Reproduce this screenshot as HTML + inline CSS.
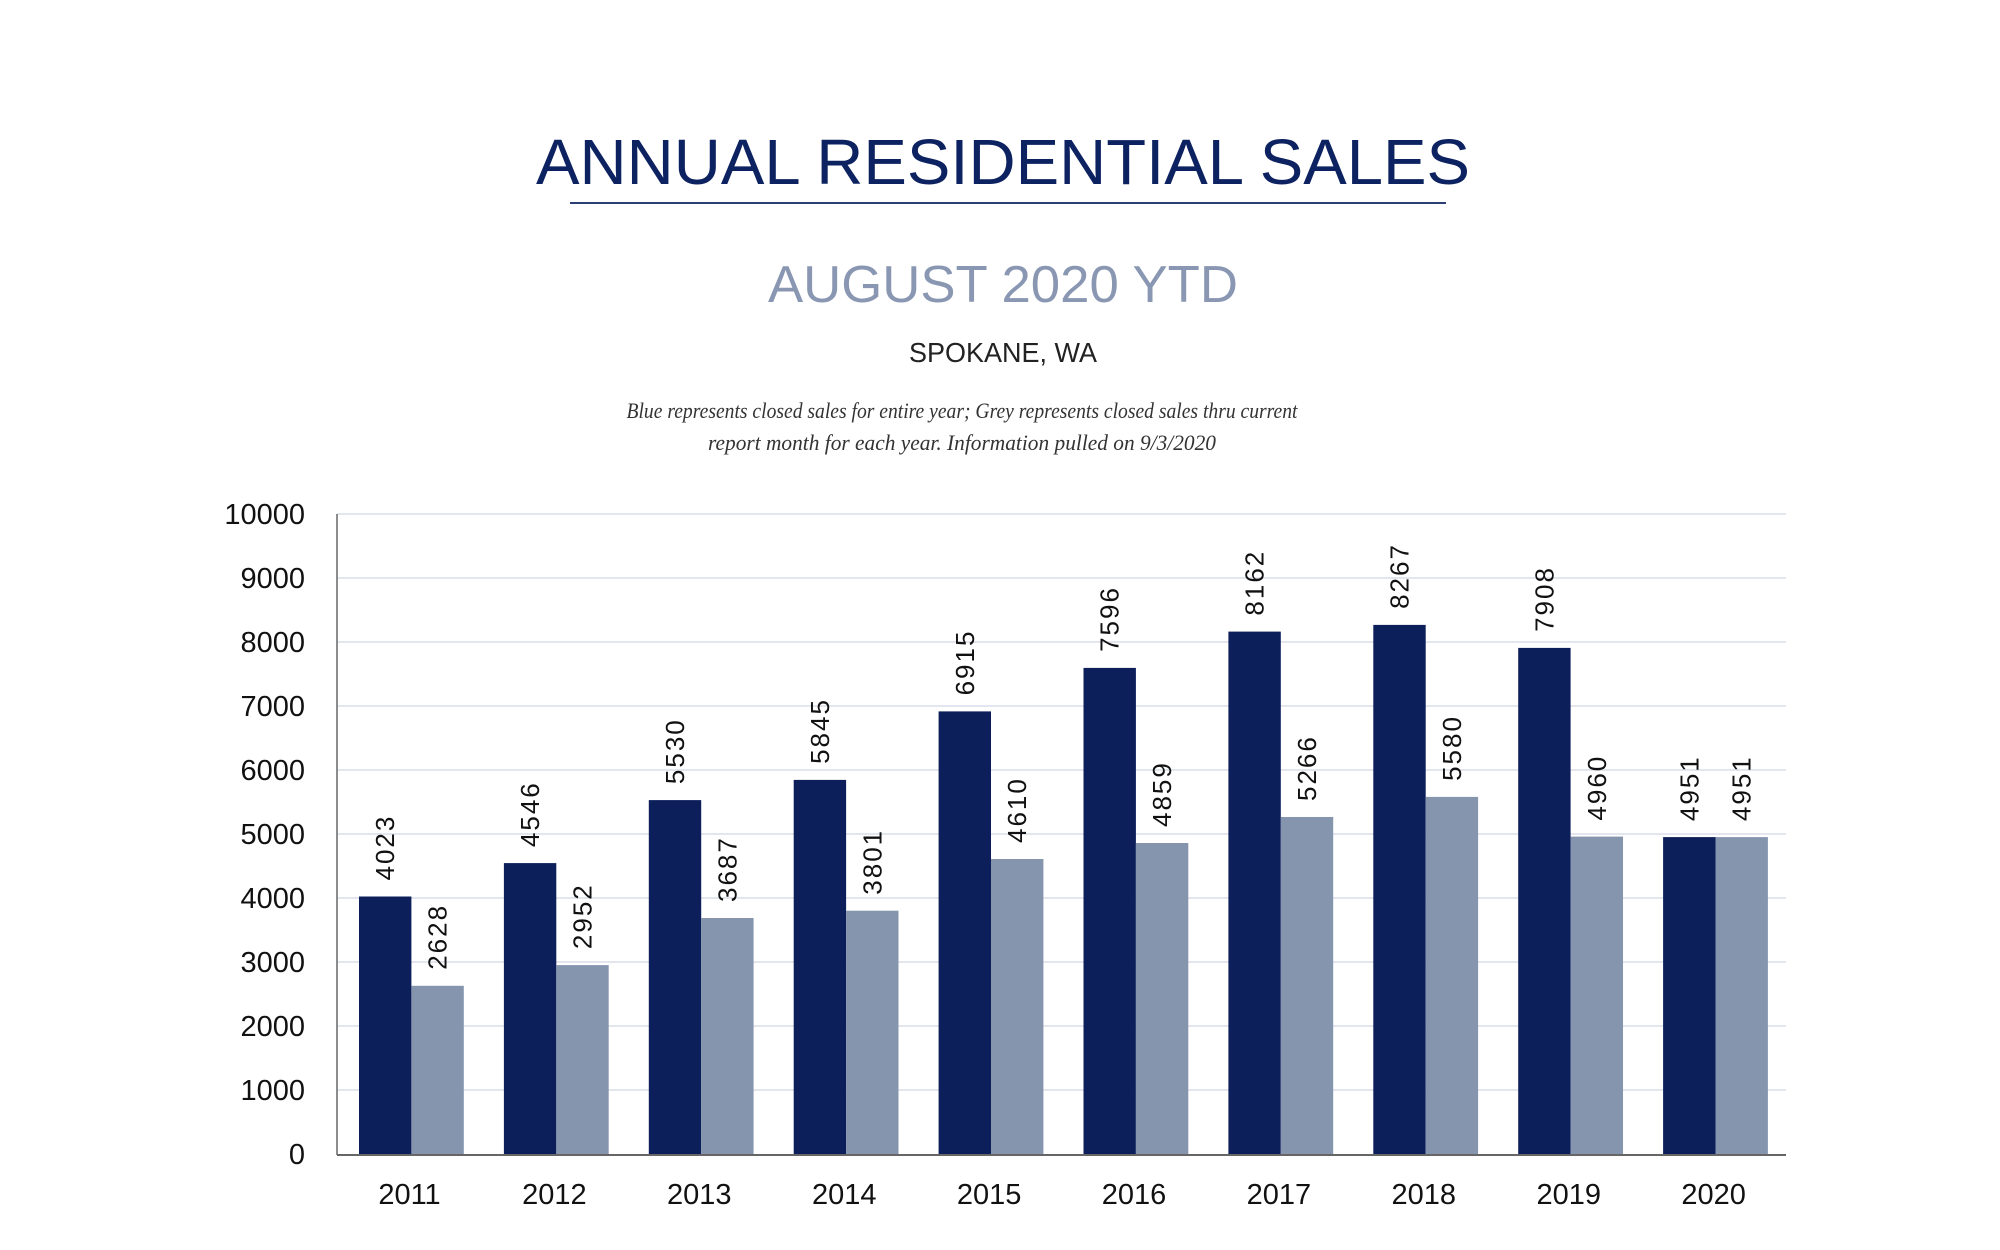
<!DOCTYPE html>
<html><head><meta charset="utf-8"><style>html,body{margin:0;padding:0;background:#fff}svg{display:block}</style></head>
<body>
<svg width="2000" height="1250" viewBox="0 0 2000 1250" xmlns="http://www.w3.org/2000/svg" font-family="Liberation Sans, sans-serif">
<rect width="2000" height="1250" fill="#fff"/>
<text x="1003" y="184" font-size="64" fill="#0d2260" text-anchor="middle" textLength="934" lengthAdjust="spacingAndGlyphs">ANNUAL RESIDENTIAL SALES</text>
<rect x="570" y="202" width="876" height="2" fill="#2a3f75"/>
<text x="1003" y="302" font-size="52" fill="#8a97b2" text-anchor="middle" textLength="470" lengthAdjust="spacingAndGlyphs">AUGUST 2020 YTD</text>
<text x="1003" y="362" font-size="28" fill="#222" text-anchor="middle" textLength="188" lengthAdjust="spacingAndGlyphs">SPOKANE, WA</text>
<g font-family="Liberation Serif, serif" font-style="italic" font-size="22" fill="#333" text-anchor="middle">
<text x="962" y="418" textLength="671" lengthAdjust="spacingAndGlyphs">Blue represents closed sales for entire year; Grey represents closed sales thru current</text>
<text x="962" y="450" textLength="508" lengthAdjust="spacingAndGlyphs">report month for each year.  Information pulled on 9/3/2020</text>
</g>
<g stroke="#e3e6ee" stroke-width="2">
<line x1="337" x2="1786" y1="514" y2="514"/><line x1="337" x2="1786" y1="578" y2="578"/>
<line x1="337" x2="1786" y1="642" y2="642"/><line x1="337" x2="1786" y1="706" y2="706"/>
<line x1="337" x2="1786" y1="770" y2="770"/><line x1="337" x2="1786" y1="834" y2="834"/>
<line x1="337" x2="1786" y1="898" y2="898"/><line x1="337" x2="1786" y1="962" y2="962"/>
<line x1="337" x2="1786" y1="1026" y2="1026"/><line x1="337" x2="1786" y1="1090" y2="1090"/>
</g>
<g font-size="29" fill="#111" text-anchor="end">
<text x="305" y="524">10000</text><text x="305" y="588">9000</text><text x="305" y="652">8000</text>
<text x="305" y="716">7000</text><text x="305" y="780">6000</text><text x="305" y="844">5000</text>
<text x="305" y="908">4000</text><text x="305" y="972">3000</text><text x="305" y="1036">2000</text>
<text x="305" y="1100">1000</text><text x="305" y="1164">0</text>
</g>
<g fill="#0c1f5b">
<rect x="359" y="896.5" width="52.4" height="257.5"/>
<rect x="503.9" y="863.1" width="52.4" height="290.9"/>
<rect x="648.8" y="800.1" width="52.4" height="353.9"/>
<rect x="793.7" y="779.9" width="52.4" height="374.1"/>
<rect x="938.6" y="711.4" width="52.4" height="442.6"/>
<rect x="1083.5" y="667.9" width="52.4" height="486.1"/>
<rect x="1228.4" y="631.6" width="52.4" height="522.4"/>
<rect x="1373.3" y="624.9" width="52.4" height="529.1"/>
<rect x="1518.2" y="647.9" width="52.4" height="506.1"/>
<rect x="1663.1" y="837.1" width="52.4" height="316.9"/>
</g>
<g fill="#8695ae">
<rect x="411.4" y="985.8" width="52.4" height="168.2"/>
<rect x="556.3" y="965.1" width="52.4" height="188.9"/>
<rect x="701.2" y="918" width="52.4" height="236"/>
<rect x="846.1" y="910.7" width="52.4" height="243.3"/>
<rect x="991" y="859" width="52.4" height="295"/>
<rect x="1135.9" y="843" width="52.4" height="311"/>
<rect x="1280.8" y="817" width="52.4" height="337"/>
<rect x="1425.7" y="796.9" width="52.4" height="357.1"/>
<rect x="1570.6" y="836.6" width="52.4" height="317.4"/>
<rect x="1715.5" y="837.1" width="52.4" height="316.9"/>
</g>
<g font-size="26" letter-spacing="2" fill="#111">
<text transform="translate(394.2,880.5) rotate(-90)">4023</text>
<text transform="translate(446.6,969.8) rotate(-90)">2628</text>
<text transform="translate(539.1,847.1) rotate(-90)">4546</text>
<text transform="translate(591.5,949.1) rotate(-90)">2952</text>
<text transform="translate(684,784.1) rotate(-90)">5530</text>
<text transform="translate(736.4,902) rotate(-90)">3687</text>
<text transform="translate(828.9,763.9) rotate(-90)">5845</text>
<text transform="translate(881.3,894.7) rotate(-90)">3801</text>
<text transform="translate(973.8,695.4) rotate(-90)">6915</text>
<text transform="translate(1026.2,843) rotate(-90)">4610</text>
<text transform="translate(1118.7,651.9) rotate(-90)">7596</text>
<text transform="translate(1171.1,827) rotate(-90)">4859</text>
<text transform="translate(1263.6,615.6) rotate(-90)">8162</text>
<text transform="translate(1316,801) rotate(-90)">5266</text>
<text transform="translate(1408.5,608.9) rotate(-90)">8267</text>
<text transform="translate(1460.9,780.9) rotate(-90)">5580</text>
<text transform="translate(1553.4,631.9) rotate(-90)">7908</text>
<text transform="translate(1605.8,820.6) rotate(-90)">4960</text>
<text transform="translate(1698.3,821.1) rotate(-90)">4951</text>
<text transform="translate(1750.7,821.1) rotate(-90)">4951</text>
</g>
<g font-size="29" fill="#111" text-anchor="middle">
<text x="409.5" y="1204">2011</text><text x="554.4" y="1204">2012</text><text x="699.3" y="1204">2013</text>
<text x="844.2" y="1204">2014</text><text x="989.1" y="1204">2015</text><text x="1134" y="1204">2016</text>
<text x="1278.9" y="1204">2017</text><text x="1423.8" y="1204">2018</text><text x="1568.7" y="1204">2019</text>
<text x="1713.6" y="1204">2020</text>
</g>
<line x1="337" y1="514" x2="337" y2="1155" stroke="#666" stroke-width="1.5"/>
<line x1="337" y1="1155" x2="1786" y2="1155" stroke="#666" stroke-width="2"/>
</svg>
</body></html>
